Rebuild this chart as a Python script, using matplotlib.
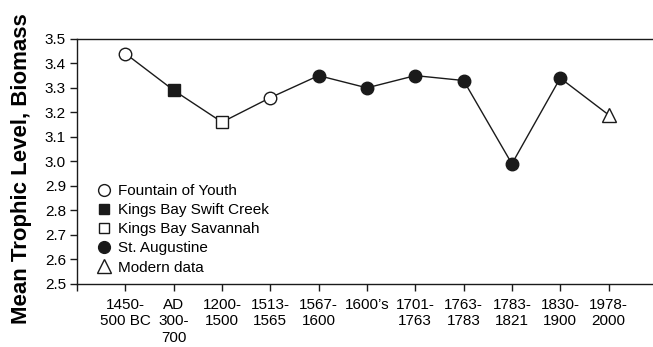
import matplotlib
matplotlib.use("Agg")
import matplotlib.pyplot as plt
from matplotlib.lines import Line2D

plt.rcParams['font.family'] = ['Liberation Sans', 'DejaVu Sans']

periods = ["1450-\n500 BC", "AD\n300-\n700", "1200-\n1500", "1513-\n1565", "1567-\n1600",
           "1600\u2019s", "1701-\n1763", "1763-\n1783", "1783-\n1821", "1830-\n1900", "1978-\n2000"]
values = [3.44, 3.29, 3.16, 3.26, 3.35, 3.30, 3.35, 3.33, 2.99, 3.34, 3.19]
sources = ["Fountain of Youth", "Kings Bay Swift Creek", "Kings Bay Savannah",
           "Fountain of Youth", "St. Augustine", "St. Augustine", "St. Augustine",
           "St. Augustine", "St. Augustine", "St. Augustine", "Modern data"]
legend_order = ["Fountain of Youth", "Kings Bay Swift Creek", "Kings Bay Savannah",
                "St. Augustine", "Modern data"]
styles = {
    "Fountain of Youth": dict(marker='o', mfc='white'),
    "Kings Bay Swift Creek": dict(marker='s', mfc='#1a1a1a'),
    "Kings Bay Savannah": dict(marker='s', mfc='white'),
    "St. Augustine": dict(marker='o', mfc='#1a1a1a'),
    "Modern data": dict(marker='^', mfc='white'),
}
msizes = {'o': 9, 's': 8, '^': 10}

fig = plt.figure(figsize=(6.53, 3.47), dpi=100)
ax = fig.add_axes([0.118, 0.182, 0.882, 0.706])

x = list(range(len(values)))
ax.plot(x, values, color='#1a1a1a', lw=1.0, zorder=2)
for xi, v, s in zip(x, values, sources):
    st = styles[s]
    ax.plot([xi], [v], linestyle='none', marker=st['marker'], mfc=st['mfc'],
            mec='#1a1a1a', mew=1.0, ms=msizes[st['marker']], zorder=3)

ax.set_xlim(-1, 10.92)
ax.set_ylim(2.5, 3.5)
ax.set_yticks([2.5 + 0.1 * i for i in range(11)])
ax.set_yticklabels([f"{2.5 + 0.1 * i:.1f}" for i in range(11)], fontsize=11)
ax.set_xticks([-1] + x)
ax.set_xticklabels([""] + periods, fontsize=11, linespacing=1.22)
ax.tick_params(axis='both', direction='out', length=5, width=1, color='#1a1a1a', pad=3)
ax.tick_params(axis='x', pad=5)
ax.spines['right'].set_visible(False)
for sp in ['left', 'bottom', 'top']:
    ax.spines[sp].set_color('#1a1a1a')
    ax.spines[sp].set_linewidth(1.0)

ax.set_ylabel("Mean Trophic Level, Biomass", fontsize=16, fontweight='bold')
ax.yaxis.set_label_coords(-0.078, 0.471)

handles = []
for name in legend_order:
    st = styles[name]
    handles.append(Line2D([], [], linestyle='none', marker=st['marker'], mfc=st['mfc'],
                          mec='#1a1a1a', mew=1.0, ms=msizes[st['marker']] - 0.5))
leg = ax.legend(handles, legend_order, loc='lower left', bbox_to_anchor=(0.02, 0.0),
                frameon=False, fontsize=11, handlelength=0.8, handletextpad=0.5,
                labelspacing=0.34, borderaxespad=0.2)

fig.savefig("out.png", dpi=100)
